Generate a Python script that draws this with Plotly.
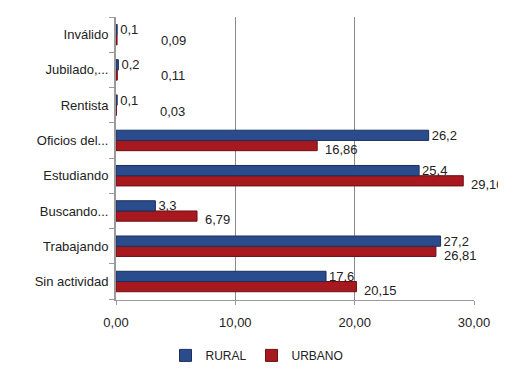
import plotly.graph_objects as go

categories = ["Sin actividad", "Trabajando", "Buscando...", "Estudiando",
              "Oficios del...", "Rentista", "Jubilado,...", "Inválido"]
rural = [17.6, 27.2, 3.3, 25.4, 26.2, 0.1, 0.2, 0.1]
urbano = [20.15, 26.81, 6.79, 29.10, 16.86, 0.03, 0.11, 0.09]
x_ticks = [0, 10, 20, 30]

fig = go.Figure()
fig.add_trace(go.Bar(
    y=categories, x=urbano, name="URBANO", orientation="h",
    marker=dict(color="#A8181F", line=dict(color="#6E0F14", width=1)),
    legendrank=2,
))
fig.add_trace(go.Bar(
    y=categories, x=rural, name="RURAL", orientation="h",
    marker=dict(color="#2B4C8C", line=dict(color="#1B2F5A", width=1)),
    texttemplate="%{x:.1f}", textposition="outside", cliponaxis=False,
    constraintext="none",
    textfont=dict(size=13, color="#222"), legendrank=1,
))

# URBANO value labels, placed from the data through the axes
for cat, v in zip(categories, urbano):
    small = v < 1
    fig.add_annotation(
        x=v, y=cat, xref="x", yref="y", text=f"{v:.2f}".replace(".", ","),
        showarrow=False, xanchor="left", yanchor="middle",
        xshift=42 if small else 6, yshift=-6 if small else -9,
        font=dict(size=13, color="#222"),
    )

fig.update_layout(
    template="none",
    width=498, height=360,
    margin=dict(l=108, r=32, t=9, b=68, autoexpand=False),
    barmode="group", bargap=0.42, bargroupgap=0,
    separators=",.",
    paper_bgcolor="white", plot_bgcolor="white",
    font=dict(family="Liberation Sans, Arial, sans-serif", size=13, color="#222"),
    showlegend=True,
    legend=dict(orientation="h", x=0.5, xanchor="center", xref="container",
                y=0.035, yanchor="middle", yref="container",
                font=dict(size=12), traceorder="normal", itemwidth=30,
                tracegroupgap=0),
    xaxis=dict(range=[0, 30], tickvals=x_ticks, tickformat=".2f",
               showgrid=True, gridcolor="#8a8a8a", gridwidth=1,
               showline=True, linecolor="#9a9a9a", linewidth=1,
               ticks="outside", ticklen=4, tickcolor="#9a9a9a",
               ticklabelstandoff=6,
               zeroline=False, mirror=False, automargin=False,
               tickfont=dict(size=13)),
    yaxis=dict(categoryorder="array", categoryarray=categories,
               showline=True, linecolor="#9a9a9a", linewidth=2,
               ticks="outside", ticklen=5, tickcolor="#9a9a9a",
               tickson="boundaries",
               showgrid=False, ticklabelstandoff=3, automargin=False,
               tickfont=dict(size=13)),
)
fig.write_html("out.html")
